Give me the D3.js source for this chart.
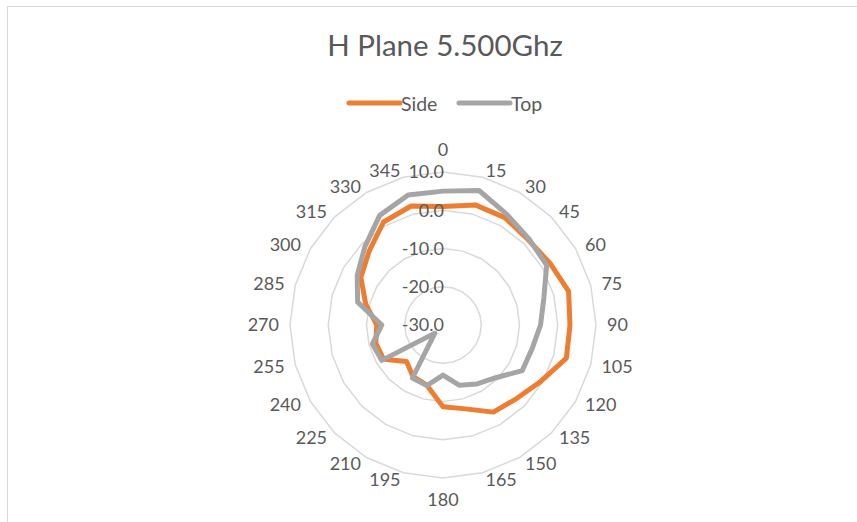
<!DOCTYPE html>
<html>
<head>
<meta charset="utf-8">
<script src="https://cdn.jsdelivr.net/npm/d3@7"></script>
<style>
  body { margin: 0; background: #fff; }
  text { font-family: Lato, "Open Sans", sans-serif; fill: #595959; }
</style>
</head>
<body>
<div class="chart"></div>
<script>
const angles = [0, 15, 30, 45, 60, 75, 90, 105, 120, 135, 150, 165, 180, 195, 210, 225, 240, 255, 270, 285, 300, 315, 330, 345];
const side = [1.0, 2.5, 2.4, 1.5, 2.3, 4.0, 3.2, 3.4, -0.5, -2.8, -3.7, -7.3, -8.6, -13.7, -14.4, -16.5, -12.1, -11.8, -12.7, -9.1, -5.2, -2.7, 1.1, 2.2];
const top_ = [5.0, 6.4, 3.4, 1.8, 1.3, -2.7, -4.5, -5.9, -6.1, -10.5, -12.2, -13.7, -16.9, -13.6, -14.0, -27.0, -11.5, -10.9, -14.0, -6.9, -4.1, -1.1, 3.1, 5.2];
const ringTicks = [-30, -20, -10, 0, 10];
const seriesNames = ["Side", "Top"];
const seriesColors = ["#ed7d31", "#a5a5a5"];

const width = 857, height = 522;
const cx = 443, cy = 325, R = 153;

const svg = d3.select(".chart").append("svg")
    .attr("width", width)
    .attr("height", height);

// chart border
svg.append("rect")
    .attr("x", 7.5).attr("y", 6.5)
    .attr("width", width).attr("height", height)
    .attr("fill", "none")
    .attr("stroke", "#d9d9d9");

const rScale = d3.scaleLinear().domain([-30, 10]).range([0, R]);
const aScale = d3.scalePoint().domain(angles).range([0, 2 * Math.PI * (23 / 24)]);

const g = svg.append("g").attr("transform", `translate(${cx},${cy})`);

function pt(a, v) {
    const t = aScale(a), r = rScale(v);
    return [r * Math.sin(t), -r * Math.cos(t)];
}

// grid rings (24-sided polygons like excel)
g.selectAll(".ring")
    .data(ringTicks.slice(1))
    .enter()
    .append("polygon")
    .attr("class", "ring")
    .attr("points", d => angles.map(a => pt(a, d).join(",")).join(" "))
    .attr("fill", "none")
    .attr("stroke", "#d9d9d9")
    .attr("stroke-width", 1.5);

// series
const line = d3.line().x(d => d[0]).y(d => d[1]).curve(d3.curveLinearClosed);
[side, top_].forEach((vals, i) => {
    g.append("path")
        .attr("d", line(angles.map((a, j) => pt(a, vals[j]))))
        .attr("fill", "none")
        .attr("stroke", seriesColors[i])
        .attr("stroke-width", 5)
        .attr("stroke-linejoin", "round");
});

// value labels on the vertical axis
g.selectAll(".vlabel")
    .data(ringTicks)
    .enter()
    .append("text")
    .attr("class", "vlabel")
    .attr("x", 1)
    .attr("y", d => -rScale(d))
    .attr("dy", "0.35em")
    .attr("text-anchor", "end")
    .attr("font-size", "18px")
    .text(d => d.toFixed(1));

// category labels: left/right aligned off the outer ring, centred at 0 and 180
g.selectAll(".clabel")
    .data(angles)
    .enter()
    .append("text")
    .attr("class", "clabel")
    .attr("x", d => {
        const s = Math.sin(aScale(d));
        return Math.abs(s) < 0.01 ? 0 : 164 * s;
    })
    .attr("y", d => {
        const s = Math.sin(aScale(d)), c = Math.cos(aScale(d));
        return Math.abs(s) < 0.01 ? -175 * c : -160 * c;
    })
    .attr("dy", "0.35em")
    .attr("text-anchor", d => {
        const s = Math.sin(aScale(d));
        return Math.abs(s) < 0.01 ? "middle" : (s > 0 ? "start" : "end");
    })
    .attr("font-size", "18px")
    .text(d => d);

// title
svg.append("text")
    .attr("x", 445).attr("y", 56)
    .attr("text-anchor", "middle")
    .attr("font-size", "29.5px")
    .text("H Plane 5.500Ghz");

// legend
const legX = [349, 459];
seriesNames.forEach((name, i) => {
    svg.append("line")
        .attr("x1", legX[i]).attr("x2", legX[i] + 51)
        .attr("y1", 103).attr("y2", 103)
        .attr("stroke", seriesColors[i])
        .attr("stroke-width", 5)
        .attr("stroke-linecap", "round");
    svg.append("text")
        .attr("x", legX[i] + 52).attr("y", 104)
        .attr("dy", "0.35em")
        .attr("font-size", "19.5px")
        .text(name);
});
</script>
</body>
</html>
